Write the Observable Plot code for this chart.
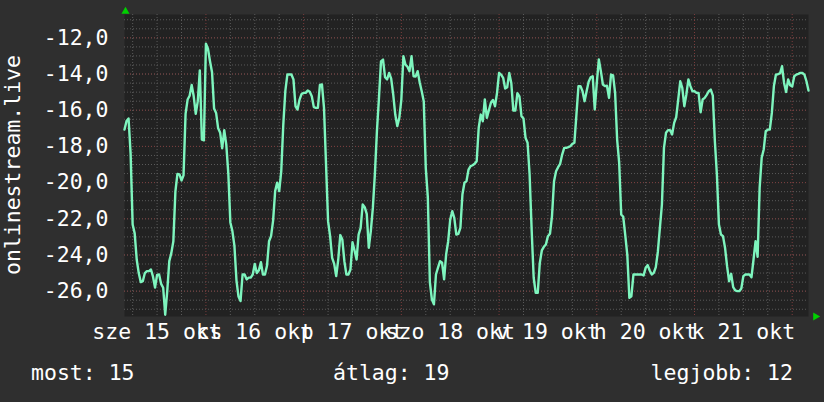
<!DOCTYPE html>
<html>
<head>
<meta charset="utf-8">
<script src="https://cdn.jsdelivr.net/npm/d3@7"></script>
<script src="https://cdn.jsdelivr.net/npm/@observablehq/plot@0.6"></script>
<style>
  html, body { margin: 0; padding: 0; background: #2f2f2f; }
  #wrap { position: relative; width: 824px; height: 402px; background: #2f2f2f; overflow: hidden;
          font-family: "DejaVu Sans Mono", monospace; font-size: 21.5px; color: #ffffff; }
  #wrap svg { display: block; }
  .abs { position: absolute; line-height: 1; white-space: nowrap; }
  .vert { writing-mode: vertical-rl; transform: rotate(180deg); }
</style>
</head>
<body>
<div id="wrap"></div>
<script>
// ---- data ----
const seriesName = "onlinestream.live";
const startTime = Date.UTC(2025, 9, 15, 4, 0);   // 2025-10-15 04:00
const endTime = Date.UTC(2025, 9, 22, 4, 0);     // 2025-10-22 04:00
const stepMinutes = 30;
const values = [
-17.07,-16.6,-16.46,-18.4,-22.32,-22.8,-24.25,-25.0,-25.5,-25.45,
-25.0,-24.89,-24.89,-24.8,-25.2,-25.8,-25.1,-25.08,-25.6,-25.81,
-27.3,-26.0,-24.34,-23.9,-23.24,-20.5,-19.52,-19.55,-19.88,-19.6,
-16.2,-15.41,-15.2,-14.6,-15.23,-16.2,-15.5,-13.8,-17.62,-17.66,
-12.33,-12.6,-13.29,-13.9,-15.9,-16.15,-17.0,-17.25,-18.1,-17.1,
-17.9,-19.5,-22.2,-22.68,-23.5,-25.4,-26.3,-26.55,-25.08,-25.08,
-25.35,-25.25,-25.25,-25.08,-24.5,-25.0,-24.85,-24.4,-25.08,-25.08,
-24.6,-23.24,-22.96,-22.1,-20.47,-20.0,-20.47,-19.37,-16.8,-14.95,
-14.03,-14.03,-14.03,-14.3,-15.78,-15.96,-15.41,-15.1,-15.04,-15.04,
-14.91,-14.98,-15.23,-15.83,-15.87,-15.87,-14.6,-14.58,-15.87,-19.0,
-22.13,-22.96,-24.16,-24.49,-25.17,-24.25,-22.9,-23.14,-24.34,-25.08,
-25.08,-24.8,-23.3,-23.75,-24.25,-22.87,-22.5,-21.21,-21.36,-21.73,
-23.6,-22.68,-21.4,-19.52,-17.16,-15.32,-13.3,-13.2,-14.18,-14.3,
-13.94,-14.25,-15.13,-16.24,-16.88,-16.42,-15.41,-13.02,-13.48,-13.6,
-13.84,-13.02,-14.12,-14.14,-13.84,-14.45,-14.95,-15.5,-19.2,-20.8,
-25.5,-26.46,-26.73,-25.08,-24.7,-24.34,-24.43,-25.35,-23.97,-23.24,
-22.04,-21.58,-21.95,-22.87,-22.83,-22.5,-20.66,-20.01,-19.92,-19.28,
-19.09,-19.04,-18.96,-18.82,-16.97,-16.24,-16.61,-15.4,-16.42,-16.0,
-15.59,-15.43,-15.78,-15.04,-13.94,-14.03,-14.21,-14.8,-14.73,-13.94,
-14.49,-16.02,-16.02,-15.06,-15.23,-16.33,-16.46,-17.53,-17.8,-19.55,
-22.59,-25.26,-26.09,-26.09,-24.45,-23.75,-23.55,-23.42,-22.96,-22.83,
-21.85,-19.92,-19.37,-19.15,-18.96,-18.45,-18.08,-18.08,-18.04,-17.99,
-17.86,-17.8,-16.24,-14.67,-14.67,-14.95,-15.5,-14.95,-14.43,-14.18,
-14.12,-15.96,-14.5,-13.2,-13.84,-14.58,-14.67,-14.65,-15.32,-14.03,
-14.07,-15.04,-17.62,-18.91,-21.76,-21.89,-22.92,-24.01,-26.37,-26.28,
-25.08,-25.08,-25.08,-25.08,-25.08,-25.13,-24.71,-24.56,-24.86,-25.08,
-24.99,-24.67,-23.82,-22.5,-21.21,-18.08,-17.25,-17.1,-17.1,-17.34,
-16.7,-16.39,-15.41,-14.4,-14.77,-15.78,-15.13,-14.3,-14.67,-14.95,
-14.95,-15.04,-15.04,-16.11,-15.41,-15.32,-15.15,-14.95,-14.86,-15.2,
-17.71,-19.55,-22.32,-22.87,-22.96,-23.6,-24.62,-25.45,-25.04,-25.78,
-25.96,-26.0,-26.0,-25.85,-25.17,-25.08,-25.08,-25.08,-25.23,-24.25,
-23.24,-24.1,-20.29,-18.63,-18.17,-17.16,-17.07,-17.07,-16.15,-14.67,
-14.03,-14.01,-13.97,-13.57,-14.49,-14.99,-14.3,-14.62,-14.69,-14.12,
-14.03,-13.99,-13.94,-13.94,-14.03,-14.4,-14.91
];
const yDomain = [-27.40, -10.71];
const yTickValues = [-26, -24, -22, -20, -18, -16, -14, -12];
const xTickDays = [15, 16, 17, 18, 19, 20, 21];
const xTickLabels = ["sze 15 okt", "cs 16 okt", "p 17 okt", "szo 18 okt", "v 19 okt", "h 20 okt", "k 21 okt"];
const statLabels = ["most: 15", "átlag: 19", "legjobb: 12"];

// ---- build ----
const data = values.map((v, i) => ({t: new Date(startTime + i * stepMinutes * 60000), v}));
const xTicks = xTickDays.map(d => new Date(Date.UTC(2025, 9, d, 12, 0)));
const dayLines = d3.utcDay.range(new Date(startTime), new Date(endTime));
const sixHourLines = d3.utcHour.every(6).range(new Date(startTime), new Date(endTime)).filter(d => d.getUTCHours() !== 0);
const yMinor = d3.range(-27, -10.9, 0.5);
const fmtY = d => d.toFixed(1).replace(".", ",");

const chart = Plot.plot({
  width: 824,
  height: 350,
  marginLeft: 124,
  marginRight: 16,
  marginTop: 14,
  marginBottom: 34,
  style: {background: "transparent", color: "#ffffff", fontFamily: "'DejaVu Sans Mono', monospace", fontSize: "21.5px", overflow: "visible"},
  x: {type: "utc", domain: [new Date(startTime), new Date(endTime)]},
  y: {domain: yDomain},
  marks: [
    Plot.frame({fill: "#222222", stroke: null}),
    Plot.gridY(yMinor, {stroke: "#5a5a5a", strokeOpacity: 1, strokeDasharray: "1,2"}),
    Plot.gridY(yTickValues, {stroke: "#7a3c3c", strokeOpacity: 1, strokeDasharray: "1,2"}),
    Plot.gridX(sixHourLines, {stroke: "#5a5a5a", strokeOpacity: 1, strokeDasharray: "1,2"}),
    Plot.gridX(dayLines, {stroke: "#7a3c3c", strokeOpacity: 1, strokeDasharray: "1,2"}),
    Plot.axisY(yTickValues, {tickFormat: fmtY, tickSize: 0, tickPadding: 16, label: null, fontSize: 21.5}),
    Plot.axisX(xTicks, {tickFormat: (d, i) => xTickLabels[i], tickSize: 0, tickPadding: 7, label: null, fontSize: 21.5}),
    Plot.line(data, {x: "t", y: "v", stroke: "#7ef5be", strokeWidth: 2.4}),
    Plot.dot([new Date(startTime)], {x: d => d, y: () => yDomain[1], dx: 1, dy: -3, symbol: "triangle", r: 3, fill: "#00d000", stroke: null}),
    Plot.dot([new Date(endTime)], {x: d => d, y: () => yDomain[0], dx: 7, symbol: "triangle", rotate: 90, r: 3, fill: "#00d000", stroke: null})
  ]
});

const wrap = document.getElementById("wrap");
wrap.appendChild(chart);

const title = document.createElement("div");
title.className = "abs vert";
title.textContent = seriesName;
wrap.appendChild(title);
const tb = title.getBoundingClientRect();
title.style.left = (12.5 - tb.width / 2) + "px";
title.style.top = (165 - tb.height / 2) + "px";

const positions = [
  {left: "31px"},
  {left: "333px"},
  {right: "31px"}
];
statLabels.forEach((s, i) => {
  const el = document.createElement("div");
  el.className = "abs";
  el.textContent = s;
  el.style.top = "362px";
  Object.assign(el.style, positions[i]);
  wrap.appendChild(el);
});
</script>
</body>
</html>
